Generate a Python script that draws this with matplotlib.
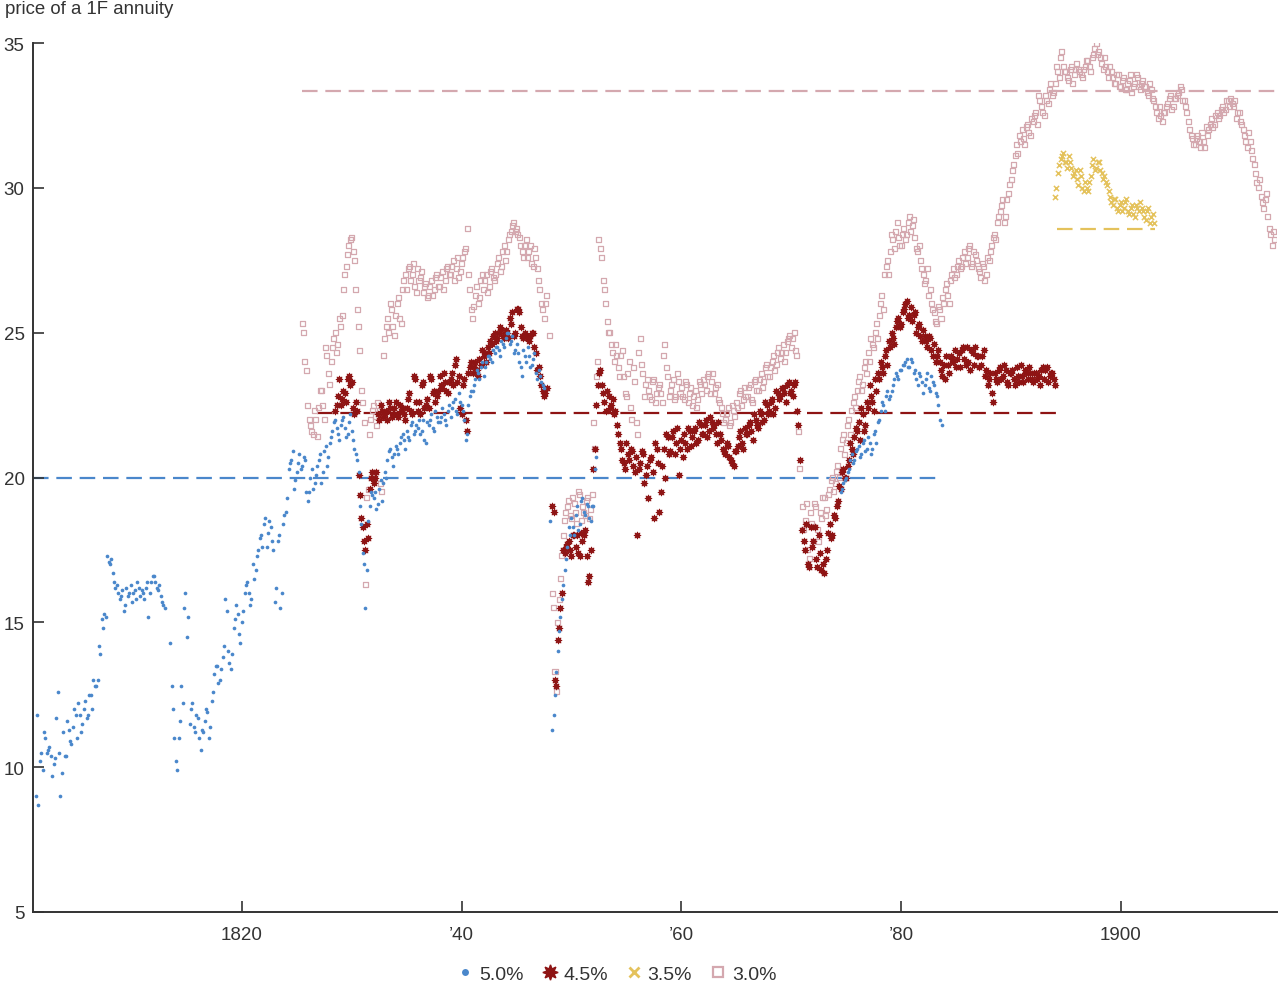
import numpy as np
import matplotlib.pyplot as plt
from matplotlib.lines import Line2D

plt.rcParams['font.family'] = ['Liberation Sans', 'DejaVu Sans']

# readings, one row per year, 4 per year (step 0.25 yr)
# each series has two interleaved sets of quotes: "_1" and "_2" (offset 1/8 yr)
# nan = no quote
blue_a_start = 1801.25
blue_a_1 = """
9.0 8.7 10.5
11.2 10.5 10.7 9.7
10.3 12.6 9.0 11.2
10.4 11.3 10.8 12.0
11.0 11.8 11.5 12.3
11.8 12.5 13.0 12.8
14.2 15.1 15.3 17.3
17.0 16.7 16.2 16.0
15.9 15.4 16.2 16.0
15.7 16.1 16.4 15.9
16.0 16.2 15.2 16.4
16.6 16.2 16.3 15.7
15.5 nan 14.3 12.0
10.2 11.0 12.8 15.5
14.5 11.5 12.2 11.2
11.7 10.6 11.2 12.0
11.0 12.3 13.2 13.5
13.0 13.8 15.8 14.0
13.4 14.8 15.6 14.6
15.0 16.0 16.4 15.6
17.0 16.8 17.5 18.0
18.4 17.6 18.5 17.8
15.7 17.8 15.5 18.4
18.8 20.3 20.6 19.6
20.2 20.8 20.4 20.6
19.2 20.0 19.6 20.1
20.6 19.8 20.9 20.4
21.2 21.6 22.0 21.5
21.8 22.1 21.4 21.9
21.6 21.0 20.6 19.0
17.4 15.5 18.5 19.5
19.3 18.9 19.6 19.2
20.2 20.6 21.0 20.4
21.1 20.8 21.4 21.3
21.6 21.3 21.9 21.6
21.7 21.5 22.0 21.2
21.8 22.2 21.6 22.1
21.9 22.4 22.0 22.3
22.1 22.6 22.3 22.9
22.5 22.0 21.5 22.8
23.0 23.4 23.6 23.8
23.5 24.0 24.2 24.0
24.3 24.5 24.2 24.6
24.8 25.0 24.7 24.3
24.6 24.0 23.5 24.2
24.5 23.8 24.1 23.6
23.7 23.3 23.1 nan
18.5 11.3 12.5 14.0
15.2 16.3 17.2 18.3
18.6 18.0 19.0 18.4
19.3 18.7 19.0 18.5
19.0 20.7
"""
blue_a_2 = """
11.8 10.2 9.9
11.0 10.6 10.4 10.1
11.7 10.5 9.8 10.4
11.6 10.9 11.4 11.8
12.2 11.2 12.0 11.7
12.5 12.0 12.8 13.0
13.9 14.8 15.2 17.1
17.2 16.4 16.3 15.8
16.1 15.6 15.9 16.3
16.0 15.8 16.2 16.1
15.8 16.4 16.0 16.6
16.4 16.1 15.9 15.6
nan nan 12.8 11.0
9.9 11.6 12.2 16.0
15.2 12.0 11.4 11.8
11.0 11.3 11.6 11.9
11.4 12.6 13.5 12.9
13.4 14.2 15.4 13.6
13.9 15.1 15.3 14.3
15.4 16.3 16.0 15.8
16.5 17.3 17.9 17.6
18.6 18.1 18.3 17.5
16.2 18.0 16.0 18.7
19.3 20.5 20.9 19.9
20.5 20.3 20.7 19.5
19.5 20.3 19.8 20.4
20.8 20.2 21.1 20.7
21.4 21.9 21.7 21.3
22.0 21.7 21.5 22.2
21.3 20.8 20.2 18.4
17.0 16.8 19.0 19.4
19.5 19.1 19.9 19.8
20.0 20.9 20.7 20.8
21.0 21.2 21.5 21.0
21.4 21.8 21.5 21.8
22.0 21.6 21.3 21.9
22.0 21.7 22.3 21.9
22.1 22.2 21.8 22.5
22.4 22.7 22.2 22.6
22.3 21.3 22.5 23.0
23.2 23.7 23.4 24.0
23.8 24.2 24.1 24.4
24.5 24.4 24.7 24.5
25.0 24.6 24.9 24.4
24.3 23.8 24.4 24.0
24.2 23.9 24.3 23.4
23.5 23.2 nan nan
nan 11.8 13.3 14.7
15.8 16.8 17.6 18.0
18.3 18.7 18.2 19.2
18.8 19.1 18.6 19.0
20.3
"""
blue_b_start = 1874.5
blue_b_1 = """
19.5 19.8
20.0 20.3 20.8 20.6
21.0 20.7 21.2 20.9
21.4 20.8 21.5 21.2
22.0 22.6 22.3 23.0
22.8 23.2 23.6 23.4
23.7 23.9 24.1 23.8
24.0 23.7 23.2 23.5
22.9 23.4 23.1 23.5
23.2 22.8 22.0 21.8
"""
blue_b_2 = """
19.6 19.9
20.2 20.6 20.5 20.9
21.1 20.8 21.3 21.0
21.2 21.0 21.6 21.9
22.3 22.5 22.8 22.7
23.0 23.4 23.5 23.7
23.9 24.0 23.8 24.1
23.6 23.4 23.6 23.3
23.2 23.6 23.0 23.3
22.9 22.5 nan
"""
red_start = 1828.5
red_1 = """
22.3 22.8
22.5 23.0 22.6 23.5
23.3 22.2 22.3 19.4
18.3 17.5 17.9 20.0
19.8 20.2 22.0 22.3
22.2 22.0 22.4 22.2
22.6 22.1 22.3 22.2
22.4 22.9 22.2 23.4
22.3 22.2 23.3 22.5
22.4 23.4 23.0 22.8
23.5 23.1 23.3 22.9
23.4 23.2 24.1 23.5
22.2 23.4 21.6 23.8
23.6 24.0 23.5 23.9
24.2 24.0 24.3 24.6
25.0 24.8 25.2 24.9
25.1 24.8 25.3 24.9
25.8 25.7 24.9 25.0
24.8 24.9 25.0 24.3
23.8 23.2 22.8 23.1
nan 19.0 13.0 14.4
15.5 17.5 17.6 17.8
17.3 18.0 18.0 17.3
17.8 18.2 16.4 17.5
20.3 22.5 23.6 23.2
22.6 23.0 22.4 22.7
22.3 21.5 21.0 20.5
21.2 20.6 20.9 20.2
18.0 20.5 20.8 20.1
19.3 20.7 18.6 21.0
18.8 20.4 20.0 21.4
20.9 21.6 21.2 20.1
21.3 21.5 21.0 21.6
21.4 21.7 21.3 21.8
21.5 22.0 21.6 21.9
21.8 21.2 21.5 21.0
20.8 21.1 20.6 20.4
20.9 21.4 21.2 21.7
21.5 21.9 21.3 22.0
21.7 22.2 22.0 22.5
22.3 22.7 22.4 22.9
22.8 23.1 22.6 23.3
23.0 23.2 22.3 20.6
18.2 17.5 17.0 18.3
17.8 17.2 18.0 16.8
16.7 17.5 18.4 18.0
18.6 19.2 19.6 20.3
20.0 20.6 21.0 21.4
21.6 21.3 22.2 21.8
22.4 22.8 22.3 23.0
23.4 23.8 24.2 23.9
24.5 24.8 25.2 25.5
25.3 25.8 26.1 25.6
25.4 25.7 25.2 24.9
25.1 24.7 24.9 24.4
24.6 24.2 24.0 23.5
23.4 23.9 24.2 24.0
23.8 24.3 24.4 24.1
24.5 23.7 24.3 24.5
24.2 23.9 24.4 23.7
23.4 22.9 23.6 23.3
23.8 23.5 23.7 23.2
23.6 23.4 23.8 23.3
23.5 23.7 23.4 23.6
23.3 23.6 23.5 23.7
23.4 23.8 23.5 23.6
23.2
"""
red_2 = """
22.5 23.4
22.7 22.9 23.4 23.2
22.4 22.6 20.1 18.6
17.8 18.4 19.6 20.2
20.0 22.2 22.5 22.1
22.3 22.6 22.1 22.4
22.2 22.5 22.4 22.0
22.7 22.3 23.5 22.6
22.6 23.2 22.4 22.7
23.5 22.9 22.6 23.0
23.2 23.6 23.0 23.3
23.6 23.9 23.3 22.4
23.2 22.0 23.6 24.0
23.8 23.7 24.1 24.4
24.3 24.5 24.7 24.9
24.7 25.0 25.1 24.8
25.0 25.5 25.7 25.0
25.8 25.2 24.8 24.9
24.7 25.0 24.5 23.7
23.5 23.0 22.9 nan
nan 18.8 12.8 14.8
16.0 17.4 17.7 17.5
18.0 17.6 17.4 18.1
18.0 17.3 16.6 nan
21.0 23.2 23.7 22.9
22.3 22.8 22.5 22.2
21.8 21.2 20.6 20.3
20.8 21.0 20.4 20.7
20.3 20.9 19.8 20.4
20.6 20.2 21.2 20.5
19.5 21.0 21.5 20.8
21.4 20.8 21.7 21.0
20.7 21.2 21.7 21.1
21.6 21.2 21.9 21.5
21.8 21.4 22.1 21.7
21.5 21.9 21.3 20.9
21.2 20.7 20.5 20.9
21.1 21.6 21.0 21.5
21.8 21.6 22.2 21.8
22.3 21.9 22.6 22.2
22.6 22.2 23.0 22.7
23.1 22.9 23.2 22.9
22.8 23.3 21.8 nan
17.8 18.4 16.9 17.6
18.3 16.9 17.4 17.0
17.2 18.1 17.9 18.7
19.0 19.7 20.2 20.0
20.4 21.2 20.8 21.7
21.9 22.4 21.6 22.6
23.2 22.6 23.4 23.6
24.0 23.6 24.4 24.7
25.0 24.6 25.4 25.2
25.7 26.0 25.5 25.9
25.6 25.0 25.3 24.7
24.9 24.5 24.8 24.2
24.0 24.4 23.7 23.9
24.2 23.6 24.1 24.4
24.1 23.8 24.5 23.9
24.0 24.4 23.9 24.2
23.8 24.2 23.5 23.2
23.6 22.6 23.4 23.7
23.4 23.9 23.3 23.6
23.7 23.2 23.5 23.9
23.3 23.6 23.8 23.4
23.6 23.4 23.2 23.8
23.7 23.3 23.6 23.4
"""
yellow_start = 1894.0
yellow_1 = """
29.7 30.5 31.0 31.2
30.9 31.1 30.7 30.5
30.3 30.6 30.0 30.2
29.9 30.4 31.0 30.7
30.9 30.5 30.4 30.1
29.7 29.4 29.6 29.2
29.5 29.3 29.6 29.1
29.4 29.0 29.3 29.5
29.2 28.9 29.3 29.0
28.8
"""
yellow_2 = """
30.0 30.8 31.1 30.9
30.7 30.9 30.4 30.6
30.1 30.4 29.9 30.0
30.2 30.8 30.6 30.9
30.6 30.3 30.2 29.9
29.5 29.6 29.3 29.4
29.2 29.5 29.2 29.3
29.1 29.4 29.2 29.3
29.0 29.2 28.8 29.1
"""
pink_start = 1825.5
pink_1 = """
25.3 24.0
22.5 21.8 21.5 22.0
22.4 23.0 22.0 24.2
23.2 24.5 25.0 24.6
25.2 26.5 27.3 28.0
28.3 27.5 25.8 24.4
22.6 16.3 19.6 22.0
22.5 21.8 22.3 19.5
24.8 25.5 26.0 25.2
25.6 26.2 25.3 26.8
26.5 27.3 27.0 26.6
27.2 26.9 26.4 26.7
26.3 26.8 26.5 27.0
26.6 27.1 26.8 27.3
27.0 27.5 27.2 26.9
27.4 27.8 28.6 26.5
25.5 26.3 26.0 26.8
26.5 27.0 26.6 27.2
26.8 27.4 27.1 27.8
27.5 28.2 28.5 28.8
28.6 28.3 27.8 28.0
27.6 28.0 27.3 27.6
26.8 26.0 25.5 26.3
24.9 16.0 13.3 15.0
16.5 18.0 18.8 19.2
18.6 19.1 18.4 19.4
19.0 18.7 19.3 18.9
21.9 23.5 28.2 27.6
26.5 25.4 25.0 24.3
24.6 23.8 24.2 23.5
22.8 24.0 22.0 23.3
21.5 24.8 23.6 23.2
23.0 22.7 23.4 22.9
23.2 22.6 24.6 23.5
23.0 23.4 22.8 23.3
23.1 22.7 23.2 22.9
22.5 23.0 22.7 23.2
23.4 23.0 23.6 23.3
22.9 23.2 22.6 22.2
22.0 22.4 21.9 22.3
22.6 22.9 22.5 23.1
22.8 23.2 22.6 23.4
23.0 23.6 23.3 23.9
23.5 24.0 23.7 24.3
24.1 24.6 24.3 24.8
24.5 25.0 24.2 20.3
19.0 18.5 17.5 18.8
18.3 19.0 17.8 18.6
19.3 18.9 19.6 20.0
19.8 20.4 21.0 21.5
21.2 22.0 22.3 22.8
23.0 23.5 23.2 24.0
24.3 24.8 24.5 25.3
25.6 26.3 27.0 27.5
27.8 28.2 28.5 28.3
28.0 28.6 28.4 29.0
28.7 28.3 27.8 27.5
27.0 26.8 26.3 26.0
25.7 25.3 25.8 26.2
26.5 26.3 26.8 27.2
27.0 27.5 27.3 27.8
27.6 28.0 27.4 27.7
27.2 26.9 27.3 27.0
27.5 28.0 28.4 28.8
29.2 29.6 29.0 29.8
30.3 30.8 31.5 31.8
32.0 31.5 32.2 31.8
32.3 32.6 33.2 32.8
32.5 33.0 33.4 33.2
33.6 34.0 34.5 34.2
34.0 33.7 34.2 33.9
34.3 34.0 33.8 34.2
34.4 34.0 34.6 35.0
34.7 34.3 34.5 34.0
34.2 33.8 33.6 33.9
33.5 33.8 33.4 33.7
33.3 33.6 33.8 33.4
33.7 33.5 33.2 33.4
33.0 32.6 32.8 32.3
32.6 32.9 33.2 32.8
33.1 33.3 33.4 33.0
32.6 32.0 31.7 31.5
31.8 31.4 31.6 32.1
32.0 32.4 32.2 32.6
32.5 32.8 32.7 33.0
33.1 32.8 32.4 32.6
32.2 31.8 31.4 31.6
31.0 30.5 30.0 29.7
29.3 29.8 28.6 28.0
28.2
"""
pink_2 = """
25.0 23.7
22.0 21.6 22.3 21.4
23.0 22.5 24.5 23.6
24.0 24.8 24.3 25.5
25.6 27.0 27.7 28.2
27.8 26.5 25.2 23.0
21.9 19.3 21.5 22.3
22.1 22.6 19.8 24.2
25.2 25.0 25.8 24.9
26.0 25.5 26.5 27.0
27.2 26.8 27.4 26.4
26.8 27.1 26.6 26.2
26.6 26.3 26.9 26.6
26.9 26.5 27.2 27.0
27.3 26.8 27.6 27.1
27.6 27.9 27.0 25.8
25.9 26.6 26.2 27.0
26.8 26.4 27.1 26.9
27.0 27.6 27.3 28.0
27.8 28.4 28.7 28.5
28.4 28.0 27.6 28.2
27.8 27.4 27.9 27.2
26.5 25.8 26.0 nan
nan 15.5 12.6 15.8
17.3 18.5 19.0 18.7
19.3 18.8 19.5 18.5
18.8 19.2 18.6 19.4
21.0 24.0 27.9 26.8
26.0 25.0 24.6 24.0
24.2 23.5 24.4 22.9
23.6 22.4 23.8 21.9
24.3 23.9 22.8 23.4
22.8 23.3 22.6 23.1
22.9 24.2 23.8 22.8
23.2 22.7 23.6 22.9
22.8 23.3 22.6 23.1
22.8 22.4 23.3 22.9
23.2 23.5 22.9 23.6
23.1 22.7 22.4 21.9
22.2 21.8 22.5 22.1
22.4 23.0 22.7 22.8
23.1 22.7 23.3 23.0
23.4 23.1 23.8 23.5
23.8 24.2 23.9 24.5
24.3 24.0 24.7 24.9
24.8 24.4 21.6 nan
18.2 19.1 17.2 18.4
19.1 18.2 18.8 19.3
18.7 19.4 19.9 19.5
20.2 20.0 21.3 20.8
21.8 21.5 22.6 22.4
23.3 23.0 23.8 23.6
24.0 24.6 25.0 24.8
26.0 25.8 27.3 27.0
28.4 27.9 28.8 28.0
28.4 28.2 28.8 28.5
28.9 27.9 28.0 27.2
26.7 27.2 26.5 25.8
25.4 25.9 25.5 26.0
26.7 26.0 27.0 26.9
27.3 27.2 27.6 27.4
27.9 27.3 27.8 27.5
27.1 27.4 26.8 27.6
27.8 28.3 28.2 29.0
29.4 28.8 29.6 30.1
30.6 31.1 31.2 31.6
31.7 32.1 31.9 32.4
32.5 32.2 33.0 32.6
33.2 32.9 33.6 33.3
34.2 33.8 34.7 34.0
33.8 34.1 33.6 34.1
34.1 33.9 34.1 34.4
34.2 34.5 34.8 34.6
34.5 34.1 34.2 33.8
34.0 33.6 33.9 33.5
33.7 33.4 33.6 33.9
33.5 33.9 33.5 33.6
33.5 33.3 33.6 33.1
32.8 32.4 32.5 32.6
32.8 33.1 32.7 33.1
33.2 33.5 33.0 32.8
32.3 31.8 31.5 31.7
31.6 31.9 31.4 31.8
32.2 32.1 32.5 32.4
32.7 32.6 33.0 32.8
32.9 33.0 32.6 32.3
32.0 31.6 31.9 31.3
30.8 30.2 30.3 29.5
29.6 29.0 28.4 28.5
"""

# par price lines (100 / rate) and the years they span
par_level = [20.0, 22.22, 28.57, 33.33]
par_from = [1801.0, 1826.8, 1894.2, 1825.5]
par_to = [1883.8, 1894.2, 1903.1, 1914.2]

labels = ['5.0%', '4.5%', '3.5%', '3.0%']
colors = ['#4a87cb', '#8e1414', '#e4c25c', '#d4a8af']


def series(start, *texts):
    # every text block is quarterly; block k is shifted by k/8 year
    xs, ys = [], []
    for k, t in enumerate(texts):
        v = np.array(t.split(), dtype=float)
        xs.append(start + 0.125 * k + 0.25 * np.arange(len(v)))
        ys.append(v)
    return np.concatenate(xs), np.concatenate(ys)


fig = plt.figure(figsize=(12.79, 9.87), dpi=100)
ax = fig.add_axes([33 / 1279, 74 / 987, 1244 / 1279, 869 / 987])

# dashed par lines
for lvl, a, b, c in zip(par_level, par_from, par_to, colors):
    ax.plot([a, b], [lvl, lvl], color=c, lw=1.6, dashes=(7, 3.5), zorder=1)

x, y = series(pink_start, pink_1, pink_2)
ax.scatter(x, y, s=13, marker='s', facecolors='none', edgecolors=colors[3], linewidths=0.9, zorder=2)
x, y = series(yellow_start, yellow_1, yellow_2)
ax.scatter(x, y, s=14, marker='x', color=colors[2], linewidths=1.1, zorder=3)
x, y = series(red_start, red_1, red_2)
ax.scatter(x, y, s=24, marker=(8, 1, 0), color=colors[1], edgecolors=colors[1], linewidths=0.7, zorder=4)
x, y = series(blue_a_start, blue_a_1, blue_a_2)
ax.scatter(x, y, s=7, marker='o', color=colors[0], linewidths=0, zorder=5)
x, y = series(blue_b_start, blue_b_1, blue_b_2)
ax.scatter(x, y, s=7, marker='o', color=colors[0], linewidths=0, zorder=5)

ax.set_xlim(1801.0, 1914.2)
ax.set_ylim(5, 35)
ax.set_xticks([1820, 1840, 1860, 1880, 1900])
ax.set_xticklabels(['1820', '\u201940', '\u201960', '\u201980', '1900'])
ax.set_yticks([5, 10, 15, 20, 25, 30, 35])

for s in ['top', 'right']:
    ax.spines[s].set_visible(False)
for s in ['left', 'bottom']:
    ax.spines[s].set_color('#333333')
    ax.spines[s].set_linewidth(1.4)
ax.tick_params(direction='in', length=8, width=1.2, color='#333333',
               labelsize=13.5, labelcolor='#333333')
ax.tick_params(axis='x', pad=10)
ax.tick_params(axis='y', pad=6)

fig.text(5 / 1279, 1 - 10 / 987, 'price of a 1F annuity', fontsize=13.4,
         color='#333333', va='center', ha='left')

handles = [
    Line2D([], [], ls='', marker='o', ms=5, color=colors[0], mec='none'),
    Line2D([], [], ls='', marker=(8, 1, 0), ms=11, color=colors[1], mec=colors[1], mew=1),
    Line2D([], [], ls='', marker='x', ms=7, color=colors[2], mew=2),
    Line2D([], [], ls='', marker='s', ms=7, mfc='none', mec=colors[3], mew=1.6),
]
fig.legend(handles, labels, loc='center', bbox_to_anchor=(617 / 1279, 12 / 987), ncol=4,
           frameon=False, fontsize=14, handletextpad=0.3, columnspacing=0.95,
           handlelength=0.8, labelcolor='#333333')

fig.savefig('out.png', dpi=100)
